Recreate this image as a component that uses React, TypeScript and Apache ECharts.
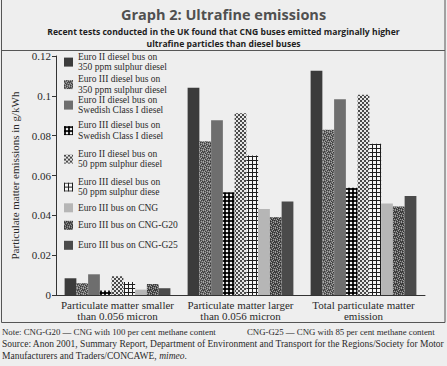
import React, { useEffect, useRef } from "react";
import * as echarts from "echarts";

const categories = [
  "Particulate matter smaller\nthan 0.056 micron",
  "Particulate matter larger\nthan 0.056 micron",
  "Total particulate matter\nemission",
];

const seriesNames = [
  "Euro II diesel bus on\n350 ppm sulphur diesel",
  "Euro III diesel bus on\n350 ppm sulphur diesel",
  "Euro II diesel bus on\nSwedish Class I diesel",
  "Euro III diesel bus on\nSwedish Class I diesel",
  "Euro II diesel bus on\n50 ppm sulphur diesel",
  "Euro III diesel bus on\n50 ppm sulphur diese",
  "Euro III bus on CNG",
  "Euro III bus on CNG-G20",
  "Euro III bus on CNG-G25",
];

const euro2_350 = [0.0084, 0.104, 0.1126];
const euro3_350 = [0.0059, 0.0772, 0.083];
const euro2_swe = [0.0104, 0.0878, 0.0983];
const euro3_swe = [0.0022, 0.0516, 0.0538];
const euro2_50 = [0.0094, 0.0913, 0.1006];
const euro3_50 = [0.0065, 0.07, 0.076];
const euro3_cng = [0.0027, 0.0432, 0.0459];
const euro3_g20 = [0.0055, 0.039, 0.0444];
const euro3_g25 = [0.0034, 0.0469, 0.0497];

const seriesValues = [
  euro2_350,
  euro3_350,
  euro2_swe,
  euro3_swe,
  euro2_50,
  euro3_50,
  euro3_cng,
  euro3_g20,
  euro3_g25,
];

const yTicks = { min: 0, max: 0.12, interval: 0.02 };

const legendTops = [51.5, 74, 94.5, 120, 148.5, 176.5, 202.5, 220, 240];

function tile(w: number, h: number, draw: (c: CanvasRenderingContext2D) => void) {
  const cv = document.createElement("canvas");
  cv.width = w;
  cv.height = h;
  const c = cv.getContext("2d")!;
  draw(c);
  return { image: cv, repeat: "repeat" } as any;
}

function speckle(base: string, dark: string, light: string) {
  // fixed hand-made 6x6 speckle map: 0 base, 1 dark, 2 light
  const map = [
    [0, 2, 1, 0, 0, 2],
    [1, 0, 0, 2, 1, 0],
    [0, 0, 2, 1, 0, 1],
    [2, 1, 0, 0, 2, 0],
    [0, 2, 1, 0, 1, 0],
    [1, 0, 0, 2, 0, 2],
  ];
  return tile(6, 6, (c) => {
    for (let y = 0; y < 6; y++)
      for (let x = 0; x < 6; x++) {
        c.fillStyle = map[y][x] === 0 ? base : map[y][x] === 1 ? dark : light;
        c.fillRect(x, y, 1, 1);
      }
  });
}

export default function App() {
  const ref = useRef<HTMLDivElement>(null);
  useEffect(() => {
    document.body.style.margin = "0";
    document.body.style.background = "#eeeeee";
    const chart = echarts.init(ref.current!, null, { renderer: "svg" });

    const gingham = tile(4, 4, (c) => {
      c.fillStyle = "#f4f4f4";
      c.fillRect(0, 0, 4, 4);
      c.fillStyle = "#222";
      c.fillRect(0, 0, 4, 2);
      c.fillRect(0, 0, 2, 4);
      c.fillStyle = "#000";
      c.fillRect(0, 0, 2, 2);
    });
    const fineCheck = tile(4, 4, (c) => {
      c.fillStyle = "#e6e6e6";
      c.fillRect(0, 0, 4, 4);
      c.fillStyle = "#4a4a4a";
      c.fillRect(0, 0, 2, 2);
      c.fillRect(2, 2, 2, 2);
    });
    const grid = tile(4, 4, (c) => {
      c.fillStyle = "#f6f6f6";
      c.fillRect(0, 0, 4, 4);
      c.fillStyle = "#1e1e1e";
      c.fillRect(0, 0, 4, 1);
      c.fillRect(0, 0, 1, 4);
    });

    const colors: any[] = [
      "#3b3b3b",
      speckle("#6a6a6a", "#3a3a3a", "#a8a8a8"),
      "#6e6e6e",
      gingham,
      fineCheck,
      grid,
      "#b6b6b6",
      speckle("#555555", "#2e2e2e", "#a0a0a0"),
      "#4a4a4a",
    ];

    const serif = "Liberation Serif";
    const textColor = "#2a2a2a";

    const option: any = {
      animation: false,
      backgroundColor: "#eeeeee",
      title: [
        {
          text: "Graph 2: Ultrafine emissions",
          left: "center",
          top: 2,
          textStyle: {
            fontFamily: "Open Sans",
            fontWeight: "bold",
            fontSize: 14.5,
            color: "#505050",
          },
        },
      ],
      legend: seriesNames.map((n, i) => ({
        data: [n],
        orient: "vertical",
        left: 64,
        top: legendTops[i],
        padding: 0,
        itemWidth: 9,
        itemHeight: 9,
        icon: "rect",
        selectedMode: false,
        textStyle: {
          fontFamily: serif,
          fontSize: 9.5,
          lineHeight: 10.6,
          color: textColor,
        },
      })),
      grid: { left: 56, right: 22, top: 56, bottom: 71 },
      xAxis: {
        type: "category",
        data: categories,
        axisTick: { show: false },
        axisLine: { lineStyle: { color: "#333", width: 1 } },
        axisLabel: {
          interval: 0,
          margin: 4,
          fontFamily: serif,
          fontSize: 11,
          lineHeight: 11.5,
          color: textColor,
        },
      },
      yAxis: {
        type: "value",
        min: yTicks.min,
        max: yTicks.max,
        interval: yTicks.interval,
        name: "Particulate matter emissions in g/kWh",
        nameLocation: "middle",
        nameGap: 31,
        nameTextStyle: { fontFamily: serif, fontSize: 11, color: textColor },
        splitLine: { show: false },
        axisLine: { show: true, lineStyle: { color: "#333", width: 1 } },
        axisTick: { show: true, length: 4, lineStyle: { color: "#333" } },
        axisLabel: {
          margin: 5,
          fontFamily: serif,
          fontSize: 11,
          color: textColor,
        },
      },
      series: seriesNames.map((n, i) => ({
        name: n,
        type: "bar",
        data: seriesValues[i],
        barGap: "0%",
        barCategoryGap: "14%",
        itemStyle: { color: colors[i] },
      })),
      graphic: [
        {
          type: "rect",
          shape: { x: 1.5, y: -2, width: 443.5, height: 324.5 },
          style: { fill: "none", stroke: "#555", lineWidth: 1 },
          z: 100,
        },
        {
          type: "line",
          shape: { x1: 1.5, y1: 50.5, x2: 445, y2: 50.5 },
          style: { stroke: "#555", lineWidth: 1 },
          z: 100,
        },
        {
          type: "text",
          x: 223.5,
          y: 32.2,
          style: {
            text:
              "Recent tests conducted in the UK found that CNG buses emitted marginally higher",
            font: "bold 8.6px 'Open Sans'",
            fill: "#1e1e1e",
            align: "center",
            verticalAlign: "middle",
          },
        },
        {
          type: "text",
          x: 223.5,
          y: 44,
          style: {
            text: "ultrafine particles than diesel buses",
            font: "bold 8.6px 'Open Sans'",
            fill: "#1e1e1e",
            align: "center",
            verticalAlign: "middle",
          },
        },
        {
          type: "text",
          x: 2,
          y: 332,
          style: {
            text: "Note: CNG-G20 \u2014 CNG with 100 per cent methane content",
            font: "8.8px 'Liberation Serif'",
            fill: textColor,
            verticalAlign: "middle",
          },
        },
        {
          type: "text",
          x: 247,
          y: 332,
          style: {
            text: "CNG-G25 \u2014 CNG with 85 per cent methane content",
            font: "8.8px 'Liberation Serif'",
            fill: textColor,
            verticalAlign: "middle",
          },
        },
        {
          type: "text",
          x: 2,
          y: 343.5,
          style: {
            text:
              "Source: Anon 2001, Summary Report, Department of Environment and Transport for the Regions/Society for Motor",
            font: "9.5px 'Liberation Serif'",
            fill: textColor,
            verticalAlign: "middle",
          },
        },
        {
          type: "text",
          x: 2,
          y: 355.5,
          style: {
            text: "Manufacturers and Traders/CONCAWE, {i|mimeo}.",
            font: "9.5px 'Liberation Serif'",
            fill: textColor,
            verticalAlign: "middle",
            rich: {
              i: {
                fontStyle: "italic",
                fontFamily: "Liberation Serif",
                fontSize: 9.5,
                fill: textColor,
              },
            },
          },
        },
      ],
    };
    chart.setOption(option);
    return () => chart.dispose();
  }, []);
  return <div ref={ref} style={{ width: 447, height: 366 }} />;
}
